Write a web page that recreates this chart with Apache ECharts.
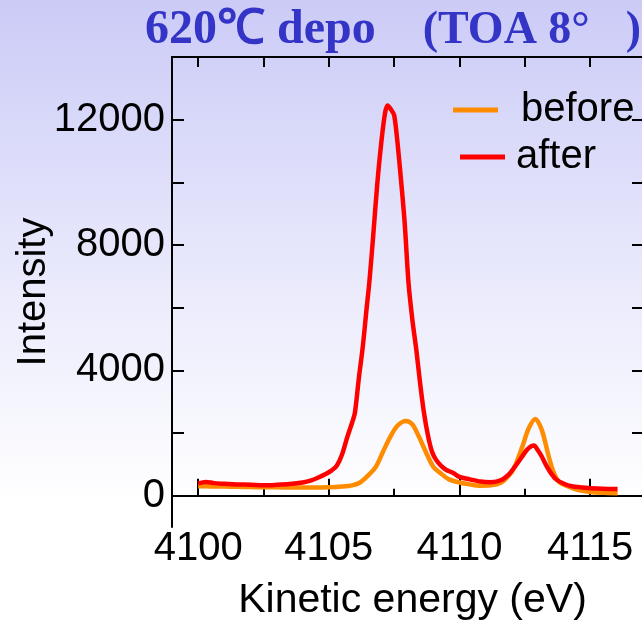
<!DOCTYPE html>
<html>
<head>
<meta charset="utf-8">
<script src="https://cdn.jsdelivr.net/npm/echarts@6/dist/echarts.min.js"></script>
<style>
html,body{margin:0;padding:0;overflow:hidden;}
#c{width:642px;height:631px;}
</style>
</head>
<body>
<div id="c"></div>
<script>
// ---- data ----
const titleMain = '620℃ depo';
const titleSub = '(TOA 8°';
const titleEnd = ')';
const seriesNames = ['before', 'after'];
const xMajorTicks = [4100, 4105, 4110, 4115];
const xMinorTicks = [4102.5, 4107.5, 4112.5];
const yTicks = [0, 2000, 4000, 6000, 8000, 10000, 12000];
const yLabels = [0, 4000, 8000, 12000];

const beforeE = [4100.0, 4100.5, 4101.0, 4101.5, 4102.0, 4102.5, 4103.0, 4103.5, 4104.0, 4104.5, 4105.0, 4105.5, 4105.9, 4106.2, 4106.5, 4106.8, 4107.1, 4107.4, 4107.65, 4107.95, 4108.2, 4108.45, 4108.7, 4109.0, 4109.3, 4109.6, 4110.0, 4110.4, 4110.8, 4111.2, 4111.6, 4111.9, 4112.1, 4112.4, 4112.65, 4112.9, 4113.15, 4113.4, 4113.6, 4113.8, 4114.2, 4114.6, 4115.0, 4115.5, 4116.05];
const beforeI = [300, 295, 290, 285, 275, 270, 265, 262, 260, 262, 268, 290, 330, 420, 640, 920, 1450, 1950, 2250, 2380, 2270, 1880, 1420, 920, 700, 520, 420, 360, 320, 330, 420, 650, 900, 1550, 2150, 2450, 2100, 1300, 750, 450, 280, 170, 120, 90, 75];

const afterE = [4100.0, 4100.3, 4100.6, 4101.0, 4101.5, 4102.0, 4102.5, 4103.0, 4103.5, 4104.0, 4104.3, 4104.6, 4104.9, 4105.1, 4105.3, 4105.5, 4105.7, 4105.9, 4106.0, 4106.15, 4106.3, 4106.45, 4106.55, 4106.7, 4106.85, 4107.0, 4107.15, 4107.25, 4107.4, 4107.5, 4107.6, 4107.75, 4107.9, 4108.05, 4108.2, 4108.35, 4108.5, 4108.65, 4108.8, 4108.95, 4109.1, 4109.3, 4109.5, 4109.75, 4110.0, 4110.4, 4110.8, 4111.2, 4111.6, 4111.9, 4112.1, 4112.4, 4112.6, 4112.85, 4113.0, 4113.15, 4113.3, 4113.5, 4113.7, 4114.0, 4114.3, 4114.7, 4115.0, 4115.5, 4116.05];
const afterI = [390, 440, 400, 380, 360, 350, 330, 345, 370, 420, 480, 580, 700, 800, 950, 1300, 1850, 2350, 2650, 3750, 4750, 6000, 6800, 8300, 9900, 11200, 12200, 12450, 12300, 12150, 11500, 10200, 8750, 6800, 5600, 4650, 3550, 2600, 1900, 1400, 1150, 950, 820, 730, 600, 520, 450, 430, 500, 690, 900, 1250, 1480, 1600, 1450, 1250, 1000, 720, 520, 380, 300, 260, 240, 220, 210];

const pairs = (xs, ys) => xs.map((x, i) => [x, ys[i]]);
const plain = v => String(v);

const FONT = "'Liberation Sans', Arial, sans-serif";
const SERIF = "'Liberation Serif', 'Times New Roman', serif";
const chart = echarts.init(document.getElementById('c'));
chart.setOption({
  animation: false,
  backgroundColor: {
    type: 'linear', x: 0, y: 0, x2: 0, y2: 1,
    colorStops: [
      {offset: 0, color: '#cbcbf7'},
      {offset: 0.45, color: '#eaeafc'},
      {offset: 0.8, color: '#ffffff'},
      {offset: 1, color: '#ffffff'}
    ]
  },
  title: {
    text: '{a|' + titleMain + '}{sp|　}{b|' + titleSub + '}{sp2|　}{b|' + titleEnd + '}',
    left: 145, top: 7, padding: 0,
    textStyle: {
      fontFamily: SERIF, fontWeight: 'bold', fontSize: 48, color: '#3434c6',
      rich: {
        a: {fontFamily: SERIF, fontWeight: 'bold', fontSize: 48, color: '#3434c6'},
        b: {fontFamily: SERIF, fontWeight: 'bold', fontSize: 46, color: '#3434c6'},
        sp: {fontFamily: SERIF, fontSize: 48, width: 47},
        sp2: {fontFamily: SERIF, fontSize: 46, width: 36}
      }
    }
  },
  legend: [
    {
      data: [seriesNames[0]], left: 453, top: 90, padding: 0,
      icon: 'rect', itemWidth: 45, itemHeight: 5,
      textStyle: {fontFamily: FONT, fontSize: 40, color: '#000', padding: [0, 0, 0, 18]}
    },
    {
      data: [seriesNames[1]], left: 460, top: 137, padding: 0,
      icon: 'rect', itemWidth: 45, itemHeight: 5,
      textStyle: {fontFamily: FONT, fontSize: 40, color: '#000', padding: [0, 0, 0, 6]}
    }
  ],
  grid: {left: 172, right: -3, top: 57, bottom: 104, containLabel: false, outerBoundsMode: 'none'},
  xAxis: [
    {
      type: 'value', position: 'bottom', min: 4099, max: 4117.1,
      axisLine: {show: true, lineStyle: {color: '#000', width: 2}},
      axisTick: {show: true, inside: true, length: 17, customValues: xMajorTicks, lineStyle: {color: '#000', width: 2}},
      axisLabel: {show: true, customValues: xMajorTicks, formatter: plain, margin: 2, fontFamily: FONT, fontSize: 40, color: '#000', showMinLabel: true, showMaxLabel: true},
      splitLine: {show: false},
      name: 'Kinetic energy (eV)', nameLocation: 'middle', nameGap: 53, nameMoveOverlap: false,
      nameTextStyle: {fontFamily: FONT, fontSize: 41, color: '#000', padding: [0, 0, 0, 8]}
    },
    {
      type: 'value', position: 'bottom', min: 4099, max: 4117.1,
      axisLine: {show: false},
      axisTick: {show: true, inside: true, length: 7, customValues: xMinorTicks, lineStyle: {color: '#000', width: 2}},
      axisLabel: {show: false}, splitLine: {show: false}
    },
    {
      type: 'value', position: 'top', min: 4099, max: 4117.1,
      axisLine: {show: true, lineStyle: {color: '#000', width: 2}},
      axisTick: {show: true, inside: true, length: 10, customValues: xMajorTicks.concat(xMinorTicks), lineStyle: {color: '#000', width: 2}},
      axisLabel: {show: false}, splitLine: {show: false}
    }
  ],
  yAxis: [
    {
      type: 'value', position: 'left', min: -1000, max: 14000,
      axisLine: {show: true, lineStyle: {color: '#000', width: 2}},
      axisTick: {show: true, inside: true, length: 12, customValues: yTicks, lineStyle: {color: '#000', width: 2}},
      axisLabel: {show: true, customValues: yLabels, formatter: plain, margin: 7, fontFamily: FONT, fontSize: 40, color: '#000'},
      splitLine: {show: false},
      name: 'Intensity', nameLocation: 'middle', nameGap: 118, nameRotate: 90, nameMoveOverlap: false,
      nameTextStyle: {fontFamily: FONT, fontSize: 40, color: '#000'}
    },
    {
      type: 'value', position: 'right', min: -1000, max: 14000,
      axisLine: {show: true, lineStyle: {color: '#000', width: 2}},
      axisTick: {show: true, inside: true, length: 13, customValues: yTicks, lineStyle: {color: '#000', width: 2}},
      axisLabel: {show: false}, splitLine: {show: false}
    }
  ],
  series: [
    {
      name: seriesNames[0], type: 'line', xAxisIndex: 0, yAxisIndex: 0,
      data: pairs(beforeE, beforeI), showSymbol: false, symbol: 'none', smooth: 0.3,
      color: '#ff8c00', lineStyle: {color: '#ff8c00', width: 4.5}
    },
    {
      name: seriesNames[1], type: 'line', xAxisIndex: 0, yAxisIndex: 0,
      data: pairs(afterE, afterI), showSymbol: false, symbol: 'none', smooth: 0.3,
      color: '#ff0000', lineStyle: {color: '#ff0000', width: 4.5}
    }
  ]
});
</script>
</body>
</html>
